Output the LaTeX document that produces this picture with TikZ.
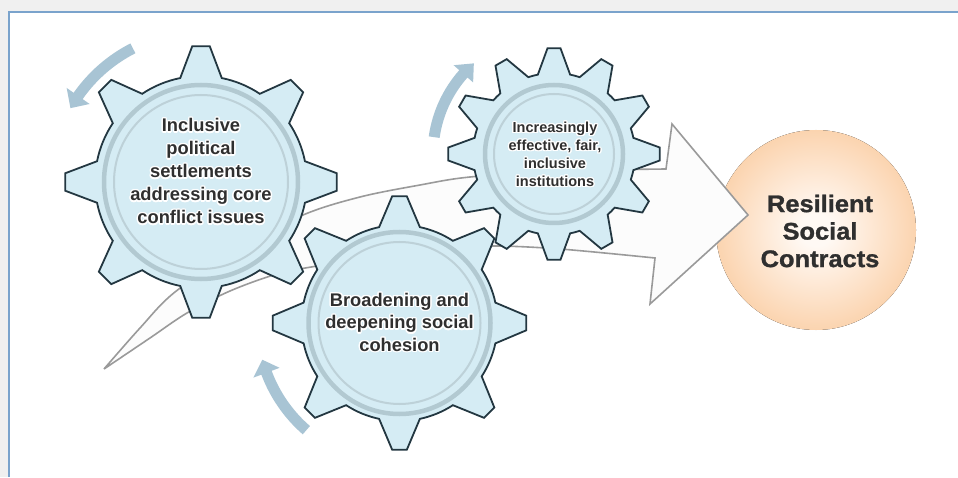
\documentclass[tikz,border=0pt]{standalone}
\usepackage{fontspec}
\setmainfont{Liberation Sans}
\newfontfamily\circfont[FakeStretch=1.06, FakeBold=1.2]{Liberation Sans}
\usepackage{contour}
\contourlength{1.3pt}
\contournumber{16}
\usetikzlibrary{calc}
\definecolor{pagebg}{HTML}{F0F0F0}
\definecolor{panelline}{HTML}{7AA3CC}
\definecolor{gearfill}{HTML}{D5ECF4}
\definecolor{gearline}{HTML}{233741}
\definecolor{ringcol}{HTML}{B2C9D1}
\definecolor{ringcoltwo}{HTML}{BDD1D8}
\definecolor{rotcol}{HTML}{A8C4D4}
\definecolor{arrline}{HTML}{9A9A9A}
\definecolor{arrfill}{HTML}{FCFCFC}
\definecolor{txt}{HTML}{2F2F2F}
\definecolor{orbc}{HTML}{FFF9F4}
\definecolor{orbi}{HTML}{FEEBDA}
\definecolor{orbm}{HTML}{FACB9F}
\definecolor{orbe}{HTML}{F6B67E}
\pgfdeclareradialshading{orb}{\pgfpoint{0bp}{0bp}}{color(0bp)=(orbc); color(4bp)=(orbc); color(12bp)=(orbi); color(30bp)=(orbm); color(50bp)=(orbe)}
\newcommand\halo[1]{\contour{white}{#1}}
\tikzset{
  gearbody/.style={fill=gearfill, draw=gearline, line width=1.8pt, line join=miter},
  ringthick/.style={draw=ringcol, line width=4.5pt},
  ringthin/.style={draw=ringcoltwo, line width=2pt},
  rotarrow/.style={fill=rotcol},
  bigarrow/.style={draw=arrline, fill=arrfill, line width=1.6pt, line join=miter, miter limit=4},
  geartext/.style={text=txt, align=center, font=\bfseries\fontsize{18.3}{23}\selectfont},
  gearpath/.style n args={5}{insert path={
    ({-#4}:#3) \foreach \k [evaluate=\k as \ga using {(\k-1)*360/#1}] in {1,...,#1}{
      -- ({\ga-#5}:#2) -- ({\ga+#5}:#2) -- ({\ga+#4}:#3)
      arc[start angle={\ga+#4}, end angle={\ga+360/#1-#4}, radius=#3]
    } -- cycle}}
}
\begin{document}
\begin{tikzpicture}[x=1pt, y=1pt]
\useasboundingbox (0,0) rectangle (958,477);
\fill[pagebg] (0,0) rectangle (958,477);
\fill[white] (9,0) rectangle (958,465);
\draw[panelline, line width=1.2pt] (9,0) -- (9,465) -- (958,465);

% target circle
\fill[shading=orb] (816,247) circle[radius=100];
\node[text=txt, align=center, font=\circfont\bfseries\fontsize{24}{27.5}\selectfont] (rsc) at (820,246) {Resilient\\Social\\Contracts};

% big curved arrow
\draw[bigarrow] plot[smooth, tension=0.55] coordinates {(104,108) (140,149) (175,185) (240,229) (303,262) (360,280) (420,292) (470,300) (560,306) (666,308)}
  -- (672,353) -- (748,262) -- (650,173)
  -- plot[smooth, tension=0.55] coordinates {(655,219) (560,228) (493,231) (440,228) (380,221) (317,211) (277,203) (230,186) (187,164) (150,139) (104,108)} -- cycle;

% gear 1
\coordinate (c1) at (201,295);
\begin{scope}[shift={(c1)}]
  \draw[gearbody] [gearpath={8}{136}{106}{11.3}{3.7}];
  \draw[ringthick] (0,0) circle[radius=97];
  \draw[ringthin] (0,0) circle[radius=87];
  \fill[rotarrow] (117:144.5) arc[start angle=117, end angle=145, radius=144.5] -- (145:136) -- (150.5:150) -- (145:164) -- (145:155.5) arc[start angle=145, end angle=117, radius=155.5] -- cycle;
\end{scope}
\node[geartext] (t1) at (201,305) {\halo{Inclusive}\\\halo{political}\\\halo{settlements}\\\halo{addressing core}\\\halo{conflict issues}};

% gear 3
\coordinate (c3) at (399.5,154);
\begin{scope}[shift={(c3)}]
  \draw[gearbody] [gearpath={8}{127}{98}{12}{3.3}];
  \draw[ringthick] (0,0) circle[radius=91];
  \draw[ringthin] (0,0) circle[radius=81];
  \fill[rotarrow] (229:136.5) arc[start angle=229, end angle=200.5, radius=136.5] -- (200.5:128) -- (195:142) -- (200.5:156) -- (200.5:147.5) arc[start angle=200.5, end angle=229, radius=147.5] -- cycle;
\end{scope}
\node[geartext, font=\bfseries\fontsize{18.3}{22.5}\selectfont] (t3) at (399.5,154) {\halo{Broadening and}\\\halo{deepening social}\\\halo{cohesion}};

% gear 2
\coordinate (c2) at (554,323);
\begin{scope}[shift={(c2)}]
  \draw[gearbody] [gearpath={12}{106}{81}{11.5}{3.5}];
  \draw[ringthick] (0,0) circle[radius=69];
  \draw[ringthin] (0,0) circle[radius=60];
  \fill[rotarrow] (172:115.5) arc[start angle=172, end angle=138.5, radius=115.5] -- (138.5:108) -- (131.5:121) -- (138.5:134) -- (138.5:126.5) arc[start angle=138.5, end angle=172, radius=126.5] -- cycle;
\end{scope}
\node[geartext, font=\bfseries\fontsize{14.5}{18}\selectfont] (t2) at (555,322) {\halo{Increasingly}\\\halo{effective, fair,}\\\halo{inclusive}\\\halo{institutions}};
\end{tikzpicture}
\end{document}
